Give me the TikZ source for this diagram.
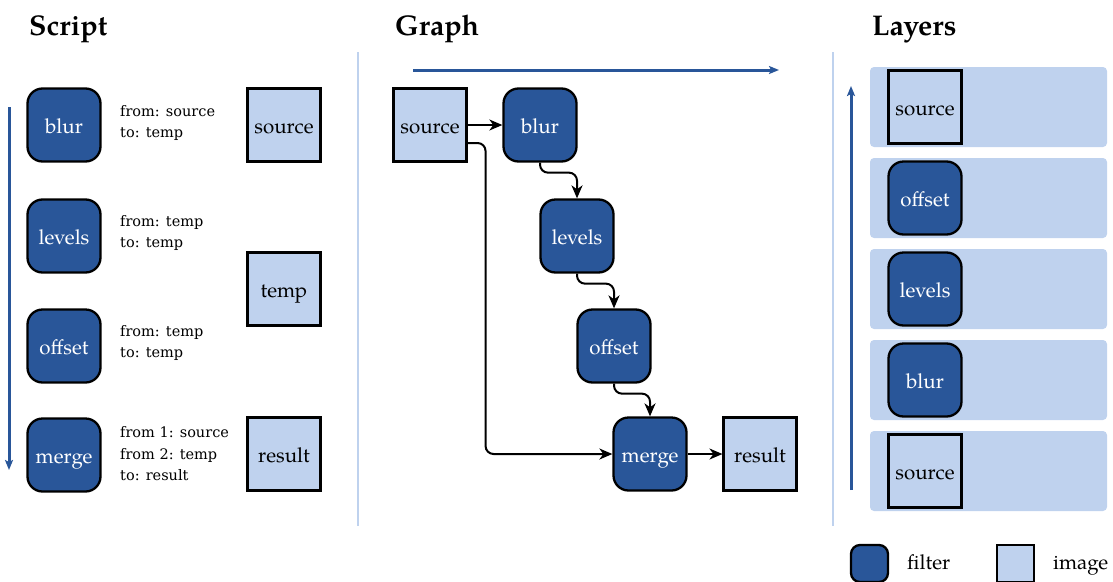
\documentclass[tikz,border=0pt]{standalone}
\usepackage{fontspec}
\setmainfont{texgyrepagella}[Extension=.otf, UprightFont=*-regular, BoldFont=*-bold, ItalicFont=*-italic, BoldItalicFont=*-bolditalic]
\newfontfamily\slab{DejaVu Serif}
\usetikzlibrary{arrows.meta}
\definecolor{dblue}{RGB}{41,86,153}
\definecolor{lblue}{RGB}{191,210,238}
\begin{document}
\begin{tikzpicture}[x=1pt,y=-1pt,
  lbl/.style={font=\fontsize{20.5}{24}\selectfont},
  filter/.style={lbl, draw=black, line width=2.3pt, fill=dblue, rounded corners=15pt,
    minimum width=73pt, minimum height=73pt, text=white, inner sep=0pt,
    text height=16pt, text depth=0pt},
  image/.style={lbl, draw=black, line width=2.1pt, fill=lblue,
    minimum width=73pt, minimum height=73pt, text=black, inner sep=0pt,
    text height=16pt, text depth=0pt},
  params/.style={anchor=west, align=left, inner sep=0pt, font=\slab\fontsize{14.5}{21.5}\selectfont},
  title/.style={anchor=base west, inner sep=0pt, font=\bfseries\fontsize{28.5}{32}\selectfont},
  edge/.style={draw=black, line width=2pt, -{Stealth[length=13pt,width=11pt,inset=4pt]}},
  flow/.style={draw=dblue, line width=3pt, -{Stealth[length=10pt,width=8pt,inset=2pt]}},
  sep/.style={draw=lblue, line width=2.2pt},
  band/.style={fill=lblue, rounded corners=4pt},
  legtext/.style={lbl, anchor=base west, inner sep=0pt}
]
\useasboundingbox (0,0) rectangle (1113,581);

% titles
\node[title] (tscript) at (29,35) {Script};
\node[title] (tgraph) at (395,35) {Graph};
\node[title] (tlayers) at (872,35) {Layers};

% separators
\draw[sep] (358,52) -- (358,526);
\draw[sep] (833,52) -- (833,526);

% ---------- Script ----------
\draw[flow] (9,107) -- (9,470);
\node[filter] (sblur) at (64,125) {blur};
\node[filter] (slev) at (64,236) {levels};
\node[filter] (soff) at (64,346) {offset};
\node[filter] (smerge) at (64,455) {merge};
\node[params] (pblur) at (120,123) {from: source\\to: temp};
\node[params] (plev) at (120,233) {from: temp\\to: temp};
\node[params] (poff) at (120,343) {from: temp\\to: temp};
\node[params] (pmerge) at (120,454) {from 1: source\\from 2: temp\\to: result};
\node[image] (ssrc) at (284,125) {source};
\node[image] (stemp) at (284,289) {temp};
\node[image] (sres) at (284,454) {result};

% ---------- Graph ----------
\draw[flow] (413,70) -- (779,70);
\node[image] (gsrc) at (430,125) {source};
\node[filter] (gblur) at (540,125) {blur};
\node[filter] (glev) at (577,236) {levels};
\node[filter] (goff) at (614,346) {offset};
\node[filter] (gmerge) at (650,454) {merge};
\node[image] (gres) at (760,454) {result};
\draw[edge] (gsrc) -- (gblur);
\draw[edge, rounded corners=8pt] (gblur.south) -- ++(0,10) -| (glev.north);
\draw[edge, rounded corners=8pt] (glev.south) -- ++(0,10) -| (goff.north);
\draw[edge, rounded corners=8pt] (goff.south) -- ++(0,10) -| (gmerge.north);
\draw[edge, rounded corners=8pt] ([yshift=-18pt]gsrc.east) -- ++(18,0) |- (gmerge.west);
\draw[edge] (gmerge) -- (gres);

% ---------- Layers ----------
\draw[flow] (851,490) -- (851,86);
\fill[band] (870,67) rectangle (1107,147);
\fill[band] (870,158) rectangle (1107,238);
\fill[band] (870,249) rectangle (1107,329);
\fill[band] (870,340) rectangle (1107,420);
\fill[band] (870,431) rectangle (1107,511);
\node[image] (lsrc1) at (925,107) {source};
\node[filter] (loff) at (925,198) {offset};
\node[filter] (llev) at (925,289) {levels};
\node[filter] (lblur) at (925,380) {blur};
\node[image] (lsrc2) at (925,471) {source};

% ---------- Legend ----------
\node[filter, minimum width=37pt, minimum height=37pt, rounded corners=9pt] (legf) at (869.5,563.5) {};
\node[legtext] (legft) at (907,569) {filter};
\node[image, minimum width=37pt, minimum height=37pt] (legi) at (1015.5,563.5) {};
\node[legtext] (legit) at (1053,569) {image};
\end{tikzpicture}
\end{document}
